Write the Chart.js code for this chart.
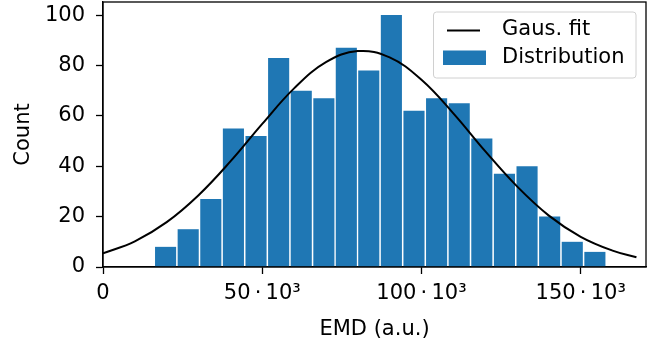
<!DOCTYPE html>
<html>
<head>
<meta charset="utf-8">
<script src="https://cdn.jsdelivr.net/npm/chart.js@4/dist/chart.umd.min.js"></script>
<style>
  html, body { margin: 0; padding: 0; background: #fff; }
  #wrap { width: 658px; height: 342px; position: relative; }
</style>
</head>
<body>
<div id="wrap"><canvas id="grafico" width="658" height="342"></canvas></div>
<script>
// histogram bins (centre of each bin, EMD units) and counts
var binCenters = [19650, 26750, 33850, 40950, 48050, 55150, 62250, 69350, 76400, 83450,
                  90550, 97650, 104750, 111850, 118950, 126050, 133150, 140250, 147350, 154450];
var counts = [8, 15, 27, 55, 52, 83, 70, 67, 87, 78,
              100, 62, 67, 65, 51, 37, 40, 20, 10, 6];

// gaussian fit curve
var fitX = [0, 10000, 20000, 30000, 40000, 50000, 60000, 70000, 80000, 90000,
            100000, 110000, 120000, 130000, 140000, 150000, 160000, 167500];
var fitY = [5.4, 10.2, 17.8, 28.5, 41.9, 56.8, 70.9, 81.3, 85.7, 83.2,
            74.3, 61.0, 46.0, 32.0, 20.4, 12.0, 6.5, 3.9];

// axis ticks
var xTicks = [0, 50000, 100000, 150000];
var xTickLabels = ['0', '50\u2009\u00b7\u200910\u00b3', '100\u2009\u00b7\u200910\u00b3', '150\u2009\u00b7\u200910\u00b3'];
var yTicks = [0, 20, 40, 60, 80, 100];

var FONT = 'DejaVu Sans';
var FSIZE = 21;
var BLU = '#1f77b4';

var punti_bar = binCenters.map(function(x, i){ return {x: x, y: counts[i]}; });
var punti_fit = fitX.map(function(x, i){ return {x: x, y: fitY[i]}; });

// box around the plot area + legend in the upper right
var cornice = {
  id: 'cornice',
  afterDatasetsDraw: function(chart){
    var ctx = chart.ctx, a = chart.chartArea;
    ctx.save();
    ctx.strokeStyle = '#000';
    ctx.lineWidth = 1.3;
    ctx.strokeRect(a.left, a.top, a.right - a.left, a.bottom - a.top);

    // legend
    var lx = 433.5, ly = 12, lw = 202.5, lh = 66, r = 3;
    ctx.globalAlpha = 0.8;
    ctx.fillStyle = '#fff';
    ctx.beginPath();
    ctx.moveTo(lx + r, ly);
    ctx.arcTo(lx + lw, ly, lx + lw, ly + lh, r);
    ctx.arcTo(lx + lw, ly + lh, lx, ly + lh, r);
    ctx.arcTo(lx, ly + lh, lx, ly, r);
    ctx.arcTo(lx, ly, lx + lw, ly, r);
    ctx.closePath();
    ctx.fill();
    ctx.globalAlpha = 1;
    ctx.strokeStyle = '#d0d0d0';
    ctx.lineWidth = 1;
    ctx.stroke();

    var ds = chart.data.datasets;
    ctx.strokeStyle = '#000';
    ctx.lineWidth = 2;
    ctx.beginPath();
    ctx.moveTo(447, 30.5);
    ctx.lineTo(480, 30.5);
    ctx.stroke();
    ctx.fillStyle = BLU;
    ctx.fillRect(443, 50.5, 43, 14.5);

    ctx.fillStyle = '#000';
    ctx.font = FSIZE + 'px "' + FONT + '"';
    ctx.textBaseline = 'middle';
    ctx.textAlign = 'left';
    ctx.fillText(ds[0].label, 502, 30);
    ctx.fillText(ds[1].label, 502, 57.5);
    ctx.restore();
  }
};

var ctx = document.getElementById('grafico');
var chart = new Chart(ctx, {
  type: 'bar',
  data: {
    datasets: [{
      type: 'line',
      label: 'Gaus. fit',
      data: punti_fit,
      borderColor: '#000',
      borderWidth: 2,
      pointRadius: 0,
      tension: 0.4,
      fill: false,
      order: 0
    }, {
      type: 'bar',
      label: 'Distribution',
      data: punti_bar,
      backgroundColor: BLU,
      borderWidth: 0,
      barPercentage: 0.94,
      categoryPercentage: 1,
      order: 1
    }]
  },
  options: {
    responsive: false,
    animation: false,
    devicePixelRatio: 1,
    layout: { padding: { top: 2, right: 12, left: 0, bottom: 0 } },
    plugins: {
      legend: { display: false },
      tooltip: { enabled: false }
    },
    scales: {
      x: {
        type: 'linear',
        offset: false,
        min: 0,
        max: 170500,
        afterBuildTicks: function(scale){
          scale.ticks = xTicks.map(function(v){ return {value: v}; });
        },
        afterFit: function(scale){
          scale.height = 75;
          scale.paddingLeft = 0;
          scale.paddingRight = 0;
        },
        ticks: {
          color: '#000',
          font: { family: FONT, size: FSIZE },
          padding: 7,
          maxRotation: 0,
          autoSkip: false,
          callback: function(v){ return xTickLabels[xTicks.indexOf(v)]; }
        },
        grid: { display: true, offset: false, drawOnChartArea: false, drawTicks: true, tickLength: 7, color: '#000', tickWidth: 1.3 },
        border: { display: true, color: '#000', width: 1.3 },
        title: {
          display: true,
          text: 'EMD (a.u.)',
          color: '#000',
          font: { family: FONT, size: FSIZE },
          padding: { top: 2, bottom: 0 }
        }
      },
      y: {
        min: 0,
        max: 105.2,
        afterBuildTicks: function(scale){
          scale.ticks = yTicks.map(function(v){ return {value: v}; });
        },
        afterFit: function(scale){
          scale.width = 103;
          scale.paddingTop = 0;
          scale.paddingBottom = 0;
        },
        ticks: {
          color: '#000',
          font: { family: FONT, size: FSIZE },
          padding: 11
        },
        grid: { display: true, drawOnChartArea: false, drawTicks: true, tickLength: 7, color: '#000', tickWidth: 1.3 },
        border: { display: true, color: '#000', width: 1.3 },
        title: {
          display: true,
          text: 'Count',
          color: '#000',
          font: { family: FONT, size: FSIZE },
          padding: { top: 11, bottom: 0 }
        }
      }
    }
  },
  plugins: [cornice]
});
</script>
</body>
</html>
